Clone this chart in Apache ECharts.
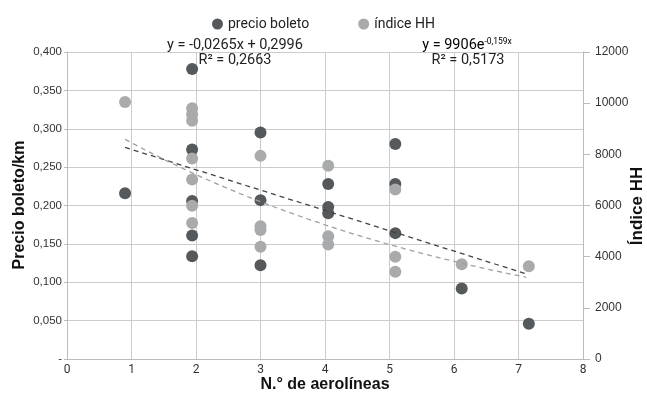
<!DOCTYPE html>
<html>
<head>
<meta charset="utf-8">
<script src="https://cdn.jsdelivr.net/npm/echarts@6/dist/echarts.min.js"></script>
<style>
  html, body { margin: 0; padding: 0; background: #fff; }
  #chart { width: 647px; height: 393px; }
</style>
</head>
<body>
<div id="chart"></div>
<script>
// precio boleto (left axis)
var precioX = [0.9, 1.94, 1.94, 1.94, 1.94, 1.94, 3.0, 3.0, 3.0, 4.05, 4.05, 4.05, 5.09, 5.09, 5.09, 6.12, 7.16];
var precioY = [0.216, 0.378, 0.273, 0.206, 0.161, 0.134, 0.295, 0.207, 0.122, 0.228, 0.198, 0.190, 0.280, 0.228, 0.164, 0.092, 0.046];
// índice HH (right axis)
var hhX = [0.9, 1.94, 1.94, 1.94, 1.94, 1.94, 1.94, 1.94, 3.0, 3.0, 3.0, 3.0, 4.05, 4.05, 4.05, 5.09, 5.09, 5.09, 6.12, 7.16];
var hhY = [10050, 9800, 9570, 9310, 7840, 7020, 5990, 5320, 7940, 5190, 5040, 4390, 7550, 4800, 4480, 6630, 4000, 3410, 3700, 3630];
// trendline coefficients as shown on the chart
var linA = -0.0265, linB = 0.2996;
var expA = 9906, expK = -0.159;
var trendFrom = 0.9, trendTo = 7.12;
var leftTicks = ['-', '0,050', '0,100', '0,150', '0,200', '0,250', '0,300', '0,350', '0,400'];

var dark = '#55595b', light = '#a8aaac';

function pairs(xs, ys) {
  return xs.map(function (x, i) { return [x, ys[i]]; });
}
var linLine = [[trendFrom, linA * trendFrom + linB], [trendTo, linA * trendTo + linB]];
var expLine = [];
for (var i = 0; i <= 20; i++) {
  var x = trendFrom + (trendTo - trendFrom) * i / 20;
  expLine.push([x, expA * Math.exp(expK * x)]);
}

var chart = echarts.init(document.getElementById('chart'));
var font = 'Roboto';
var arial = '"Liberation Sans", Arial, sans-serif';
var option = {
  animation: false,
  textStyle: { fontFamily: font },
  legend: {
    top: 12,
    left: 207,
    itemGap: 49,
    itemWidth: 11,
    itemHeight: 11,
    textStyle: { fontSize: 14, color: '#222', fontFamily: font },
    data: [
      { name: 'precio boleto', icon: 'circle' },
      { name: 'índice HH', icon: 'circle' }
    ]
  },
  grid: { left: 67, right: 64, top: 52, bottom: 34, outerBoundsMode: 'none' },
  xAxis: {
    type: 'value', min: 0, max: 8, interval: 1,
    axisLine: { show: true, lineStyle: { color: '#bbb' } },
    axisTick: { show: false },
    axisLabel: { color: '#333', fontSize: 12, margin: 5, fontFamily: font },
    splitLine: { show: true, lineStyle: { color: '#cccccc' } }
  },
  yAxis: [{
    type: 'value', min: 0, max: 0.4, interval: 0.05,
    axisLine: { show: true, lineStyle: { color: '#bbb' } },
    axisTick: { show: true, length: 3, lineStyle: { color: '#bbb' } },
    axisLabel: {
      color: '#333', fontSize: 11.5, margin: 5, fontFamily: arial,
      formatter: function (v) { return leftTicks[Math.round(v / 0.05)]; }
    },
    splitLine: { show: true, lineStyle: { color: '#cccccc' } }
  }, {
    type: 'value', min: 0, max: 12000, interval: 2000, position: 'right',
    axisLine: { show: true, lineStyle: { color: '#bbb' } },
    axisTick: { show: true, length: 7, lineStyle: { color: '#bbb' } },
    axisLabel: {
      color: '#333', fontSize: 12, margin: 12, fontFamily: arial,
      formatter: function (v) { return String(v); }
    },
    splitLine: { show: false }
  }],
  series: [{
    name: 'precio boleto', type: 'scatter', yAxisIndex: 0,
    symbolSize: 12, itemStyle: { color: dark, opacity: 1 },
    data: pairs(precioX, precioY), z: 3
  }, {
    name: 'índice HH', type: 'scatter', yAxisIndex: 1,
    symbolSize: 12, itemStyle: { color: light, opacity: 1 },
    data: pairs(hhX, hhY), z: 4
  }, {
    name: 'lin', type: 'line', yAxisIndex: 0, symbol: 'none', silent: true,
    lineStyle: { color: '#444', width: 1.3, type: [5, 4] },
    data: linLine, z: 5
  }, {
    name: 'exp', type: 'line', yAxisIndex: 1, symbol: 'none', silent: true,
    lineStyle: { color: '#a0a0a0', width: 1.3, type: [5, 4] },
    data: expLine, z: 5
  }],
  graphic: [{
    type: 'text', x: 325, y: 385, z: 10,
    style: { text: 'N.° de aerolíneas', font: 'bold 16px "Liberation Sans"', fill: '#111', align: 'center', verticalAlign: 'middle' }
  }, {
    type: 'text', x: 20, y: 205, rotation: Math.PI / 2, z: 10,
    style: { text: 'Precio boleto/km', font: 'bold 16px "Liberation Sans"', fill: '#111', align: 'center', verticalAlign: 'middle' }
  }, {
    type: 'text', x: 637, y: 206, rotation: Math.PI / 2, z: 10,
    style: { text: 'Índice HH', font: 'bold 17px "Liberation Sans"', fill: '#111', align: 'center', verticalAlign: 'middle' }
  }, {
    type: 'text', x: 235, y: 45, z: 10,
    style: { text: 'y = -0,0265x + 0,2996', font: '14.5px Roboto', fill: '#222', align: 'center', verticalAlign: 'middle' }
  }, {
    type: 'text', x: 235, y: 60, z: 10,
    style: { text: 'R² = 0,2663', font: '14.5px Roboto', fill: '#222', align: 'center', verticalAlign: 'middle' }
  }, {
    type: 'text', x: 467, y: 45, z: 10,
    style: {
      text: '{a|y = 9906e}{s|-0,159x}', align: 'center', verticalAlign: 'middle',
      rich: {
        a: { fontSize: 14.5, fontFamily: font, color: '#222' },
        s: { fontSize: 8.5, fontFamily: font, color: '#222', verticalAlign: 'top', padding: [0, 0, 7, 0] }
      }
    }
  }, {
    type: 'text', x: 468, y: 60, z: 10,
    style: { text: 'R² = 0,5173', font: '14.5px Roboto', fill: '#222', align: 'center', verticalAlign: 'middle' }
  }]
};
chart.setOption(option);
</script>
</body>
</html>
